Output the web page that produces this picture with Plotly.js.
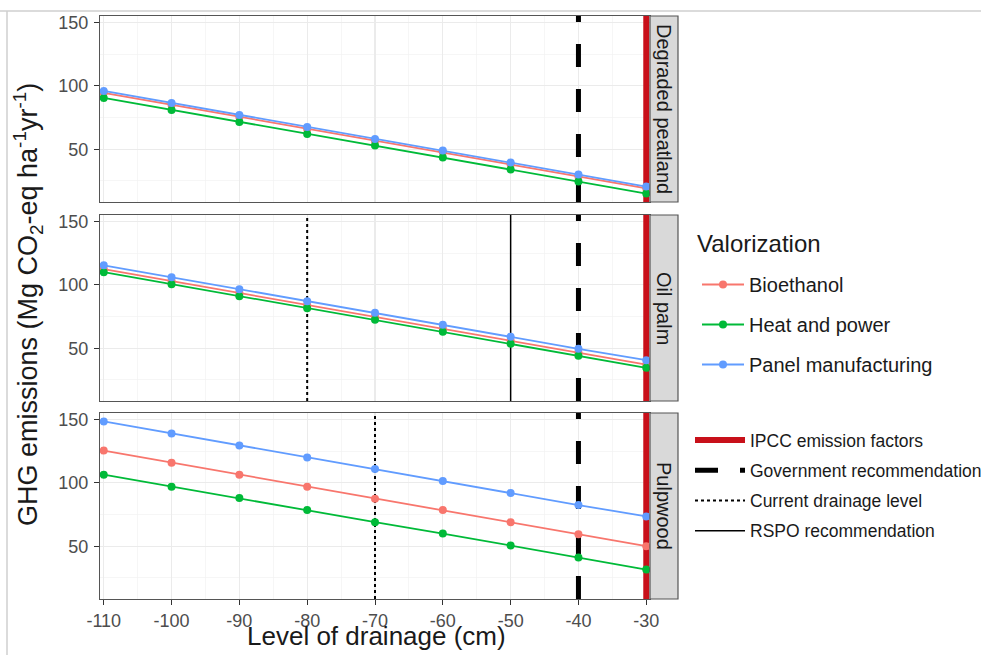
<!DOCTYPE html>
<html><head><meta charset="utf-8">
<script src="https://cdn.plot.ly/plotly-3.0.1.min.js"></script>
<style>html,body{margin:0;padding:0;background:#fff}#chart{width:981px;height:655px}</style>
</head><body><div id="chart"></div>
<script>
// ---------- data ----------
const drainage = [-110, -100, -90, -80, -70, -60, -50, -40, -30];
const panels = ['Degraded peatland', 'Oil palm', 'Pulpwood'];
const valorizations = ['Bioethanol', 'Heat and power', 'Panel manufacturing'];

const peatBioethanol = [94.5, 85, 75.5, 66, 56.5, 47.5, 38, 28.5, 19];
const peatHeatPower  = [90.5, 81, 71.5, 62, 53, 43.5, 34, 24.5, 15];
const peatPanel      = [96, 86.5, 77, 67.5, 58, 49, 39.5, 30, 20.5];

const oilBioethanol  = [112.5, 103, 93.5, 84, 75, 65.5, 56, 46.5, 37];
const oilHeatPower   = [110, 100.5, 91, 81.5, 72.5, 63, 53.5, 44, 34.5];
const oilPanel       = [115.5, 106, 96.5, 87, 78, 68.5, 59, 49.5, 40.5];

const pulpBioethanol = [125.5, 116, 106.5, 97, 87.5, 78.5, 69, 59.5, 50];
const pulpHeatPower  = [106.5, 97, 88, 78.5, 69, 60, 50.5, 41, 31.5];
const pulpPanel      = [148.5, 139, 129.5, 120, 111, 101.5, 92, 82.5, 73.5];

// reference drainage levels per panel (null = not shown)
const ipccLevel       = [-30, -30, -30];
const governmentLevel = [-40, -40, -40];
const currentLevel    = [null, -80, -70];
const rspoLevel       = [null, -50, null];
const refNames = ['IPCC emission factors', 'Government recommendation', 'Current drainage level', 'RSPO recommendation'];

const yTicks = [50, 100, 150];
const xTicks = [-110, -100, -90, -80, -70, -60, -50, -40, -30];
const xTickLabels = ['-110', '-100', '-90', '-80', '-70', '-60', '-50', '-40', '-30'];

// ---------- styling ----------
const seriesColors = ['#F8766D', '#00BA38', '#619CFF'];
const refStyles = [
  {color: '#C8101A', width: 6, dash: 'solid'},
  {color: '#000000', width: 5, dash: '23px,22px'},
  {color: '#000000', width: 2, dash: '3px,3px'},
  {color: '#000000', width: 1.5, dash: 'solid'}
];
const refLevels = [ipccLevel, governmentLevel, currentLevel, rspoLevel];
const panelValues = [
  [peatBioethanol, peatHeatPower, peatPanel],
  [oilBioethanol, oilHeatPower, oilPanel],
  [pulpBioethanol, pulpHeatPower, pulpPanel]
];
const yRange = [8.3, 155.2];
const xRange = [-110.55, -29.45];
const FONT = 'Liberation Sans, Arial, sans-serif';

const H = 655, W = 981, L = 100, R = 678, T = 16, B = 599;
const px2x = p => (p - L) / (R - L);
const px2y = p => (B - p) / (B - T);
const panelPx = [[16, 202], [215, 401], [413, 599]];
const panelRight = 650;

const traces = [];
const axisSuffix = ['', '2', '3'];

// reference lines first (drawn below data)
panels.forEach((p, i) => {
  refLevels.forEach((lev, r) => {
    const v = lev[i];
    traces.push({
      type: 'scatter', mode: 'lines',
      x: v === null ? [null] : [v, v], y: v === null ? [null] : [yRange[0], yRange[1]],
      xaxis: 'x' + axisSuffix[i], yaxis: 'y' + axisSuffix[i],
      line: refStyles[r], name: refNames[r],
      legend: 'legend2', legendgroup: 'ref' + r, showlegend: i === 0,
      hoverinfo: 'skip'
    });
  });
});

panels.forEach((p, i) => {
  valorizations.forEach((s, k) => {
    traces.push({
      type: 'scatter', mode: 'lines+markers',
      x: drainage, y: panelValues[i][k],
      xaxis: 'x' + axisSuffix[i], yaxis: 'y' + axisSuffix[i],
      line: {color: seriesColors[k], width: 1.8},
      marker: {color: seriesColors[k], size: 8},
      name: s, legend: 'legend', legendgroup: 'val' + k, showlegend: i === 0,
      cliponaxis: true
    });
  });
});

const layout = {
  width: W, height: H,
  margin: {l: L, r: W - R, t: T, b: H - B, pad: 0, autoexpand: false},
  paper_bgcolor: '#ffffff', plot_bgcolor: '#ffffff',
  font: {family: FONT, color: '#1a1a1a'},
  showlegend: true,
  legend: {
    x: px2x(697), y: px2y(265), xanchor: 'left', yanchor: 'top',
    font: {size: 20, color: '#1a1a1a'}, tracegroupgap: 11, traceorder: 'grouped',
    itemwidth: 42, bgcolor: 'rgba(0,0,0,0)'
  },
  legend2: {
    x: px2x(690), y: px2y(422), xanchor: 'left', yanchor: 'top',
    font: {size: 17.5, color: '#1a1a1a'}, tracegroupgap: 4.5, traceorder: 'grouped',
    itemwidth: 50, bgcolor: 'rgba(0,0,0,0)'
  },
  shapes: [], annotations: []
};

panels.forEach((p, i) => {
  const dom = [px2y(panelPx[i][1]), px2y(panelPx[i][0])];
  layout['xaxis' + axisSuffix[i]] = {
    domain: [0, px2x(panelRight)], range: xRange, anchor: 'y' + axisSuffix[i],
    tickvals: xTicks, ticktext: xTickLabels, showticklabels: i === 2,
    ticks: i === 2 ? 'outside' : '', ticklen: 5, tickcolor: '#333333', tickwidth: 1,
    tickfont: {size: 18, color: '#4D4D4D', family: FONT},
    showgrid: true, gridcolor: '#EBEBEB', gridwidth: 1.2,
    minor: {dtick: 5, tick0: -110, showgrid: true, gridcolor: '#F2F2F2', gridwidth: 0.7},
    showline: true, mirror: true, linecolor: '#555555', linewidth: 1.2,
    zeroline: false, fixedrange: true
  };
  if (i > 0) layout['xaxis' + axisSuffix[i]].matches = 'x';
  layout['yaxis' + axisSuffix[i]] = {
    domain: dom, range: yRange, anchor: 'x' + axisSuffix[i],
    tickvals: yTicks, ticks: 'outside', ticklen: 5, tickcolor: '#333333', tickwidth: 1,
    ticklabelstandoff: 2,
    tickfont: {size: 18, color: '#4D4D4D', family: FONT},
    showgrid: true, gridcolor: '#EBEBEB', gridwidth: 1.2,
    minor: {dtick: 25, tick0: 0, showgrid: true, gridcolor: '#F2F2F2', gridwidth: 0.7},
    showline: true, mirror: true, linecolor: '#555555', linewidth: 1.2,
    zeroline: false, fixedrange: true
  };
  // strip
  layout.shapes.push({
    type: 'rect', xref: 'paper', yref: 'y' + axisSuffix[i] + ' domain',
    x0: px2x(panelRight), x1: 1, y0: 0, y1: 1,
    fillcolor: '#D9D9D9', line: {color: '#555555', width: 1.2}, layer: 'above'
  });
  layout.annotations.push({
    xref: 'paper', yref: 'y' + axisSuffix[i] + ' domain',
    x: px2x((panelRight + R) / 2), y: 0.5, xanchor: 'center', yanchor: 'middle',
    text: p, textangle: 90, showarrow: false,
    font: {size: 20, color: '#1a1a1a', family: FONT}
  });
});

// legend title
layout.annotations.push({
  xref: 'paper', yref: 'paper', x: px2x(695), y: px2y(243),
  xanchor: 'left', yanchor: 'middle', showarrow: false,
  text: 'Valorization', font: {size: 24, color: '#1a1a1a', family: FONT}
});

// axis titles
layout.annotations.push({
  xref: 'paper', yref: 'paper', x: px2x(376), y: px2y(636),
  xanchor: 'center', yanchor: 'middle', showarrow: false,
  text: 'Level of drainage (cm)', font: {size: 26, color: '#1a1a1a', family: FONT}
});
layout.annotations.push({
  xref: 'paper', yref: 'paper', x: px2x(28), y: px2y(305),
  xanchor: 'center', yanchor: 'middle', showarrow: false, textangle: -90,
  text: 'GHG emissions (Mg CO<sub>2</sub>-eq ha<sup>-1</sup>yr<sup>-1</sup>)',
  font: {size: 27, color: '#1a1a1a', family: FONT}
});

// outer frame (top and left edges)
layout.shapes.push({type: 'line', xref: 'paper', yref: 'paper', x0: px2x(0), x1: px2x(981), y0: px2y(11), y1: px2y(11), line: {color: '#CFCFCF', width: 1.5}});
layout.shapes.push({type: 'line', xref: 'paper', yref: 'paper', x0: px2x(7), x1: px2x(7), y0: px2y(11), y1: px2y(655), line: {color: '#CFCFCF', width: 1.5}});

Plotly.newPlot('chart', traces, layout, {staticPlot: true, displayModeBar: false});
</script>
</body></html>
